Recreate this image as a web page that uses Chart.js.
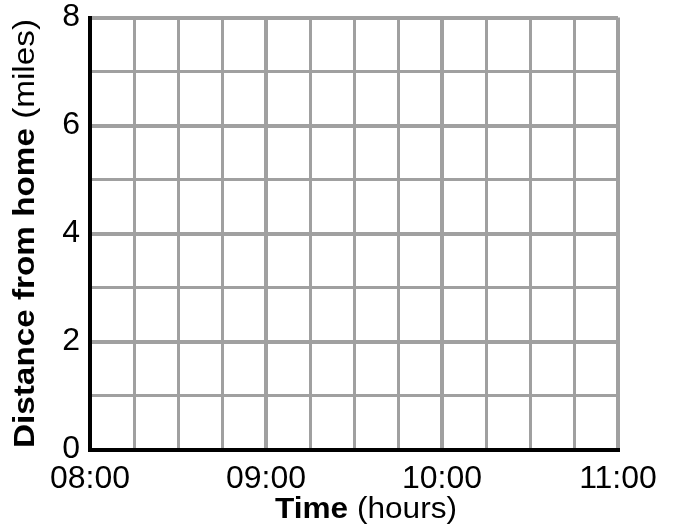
<!DOCTYPE html>
<html><head><meta charset="utf-8">
<script src="https://cdn.jsdelivr.net/npm/chart.js@4/dist/chart.umd.min.js"></script>
<style>html,body{margin:0;padding:0;background:#fff;overflow:hidden}</style>
</head><body>
<canvas id="c" width="676" height="526"></canvas>
<script>
// Data (reference is an empty grid: no plotted series)
const xMinutes = [0, 15, 30, 45, 60, 75, 90, 105, 120, 135, 150, 165, 180]; // minutes after 08:00
const xTickLabels = ['08:00', '', '', '', '09:00', '', '', '', '10:00', '', '', '', '11:00'];
const yTicks = [0, 1, 2, 3, 4, 5, 6, 7, 8];
const yTickLabels = ['0', '', '2', '', '4', '', '6', '', '8'];
const seriesPoints = [];
const xTitleBold = 'Time', xTitleRest = ' (hours)';
const yTitleBold = 'Distance from home', yTitleRest = ' (miles)';

const FAM = '"Liberation Sans", Arial, Helvetica, sans-serif';
const GRID = '#a0a0a0';

function drawTitle(ctx, bold, rest, size, cx, baseY, targetW, angle) {
  ctx.font = 'bold ' + size + 'px ' + FAM;
  const wb = ctx.measureText(bold).width;
  ctx.font = size + 'px ' + FAM;
  const wr = ctx.measureText(rest).width;
  const w = wb + wr;
  const sx = targetW / w;
  ctx.save();
  ctx.translate(cx, baseY);
  ctx.rotate(angle);
  ctx.scale(sx, 1);
  ctx.textAlign = 'left';
  ctx.textBaseline = 'alphabetic';
  ctx.fillStyle = '#000';
  ctx.font = 'bold ' + size + 'px ' + FAM;
  ctx.fillText(bold, -w / 2, 0);
  ctx.font = size + 'px ' + FAM;
  ctx.fillText(rest, -w / 2 + wb, 0);
  ctx.restore();
}

const titlePlugin = {
  id: 'mixedTitles',
  afterDraw(chart) {
    const ctx = chart.ctx;
    const a = chart.chartArea;
    drawTitle(ctx, xTitleBold, xTitleRest, 30, (a.left + a.right) / 2 + 12, 518, 182, 0);
    drawTitle(ctx, yTitleBold, yTitleRest, 30, 34, 233.5, 429, -Math.PI / 2);
  }
};

new Chart(document.getElementById('c'), {
  type: 'scatter',
  data: { datasets: [{ data: seriesPoints, showLine: false }] },
  plugins: [titlePlugin],
  options: {
    responsive: false,
    devicePixelRatio: 1,
    animation: false,
    layout: { padding: { top: 17.5, right: 58, left: 0, bottom: 0 } },
    plugins: { legend: { display: false }, tooltip: { enabled: false }, title: { display: false } },
    scales: {
      x: {
        type: 'linear', min: xMinutes[0], max: xMinutes[xMinutes.length - 1],
        afterBuildTicks: s => { s.ticks = xMinutes.map(v => ({ value: v })); },
        afterFit: s => { s.height = 76.5; },
        ticks: {
          autoSkip: false, maxRotation: 0, minRotation: 0, padding: 14, color: '#000',
          font: { family: FAM, size: 32, lineHeight: 1 },
          callback: (v, i) => xTickLabels[i]
        },
        grid: {
          drawTicks: false,
          color: c => (c.tick && c.tick.value === xMinutes[0]) ? '#000' : GRID,
          lineWidth: c => (c.tick && c.tick.value % 60 === 0) ? 4 : 3
        },
        border: { display: true, color: '#000', width: 4 },
        title: { display: false }
      },
      y: {
        type: 'linear', min: yTicks[0], max: yTicks[yTicks.length - 1],
        afterBuildTicks: s => { s.ticks = yTicks.map(v => ({ value: v })); },
        afterFit: s => { s.width = 90; },
        ticks: {
          autoSkip: false, padding: 10, color: '#000',
          font: { family: FAM, size: 32, lineHeight: 0.15 },
          callback: (v, i) => yTickLabels[i]
        },
        grid: {
          drawTicks: false,
          color: c => (c.tick && c.tick.value === yTicks[0]) ? '#000' : GRID,
          lineWidth: c => (c.tick && c.tick.value % 2 === 0) ? 4 : 3
        },
        border: { display: true, color: '#000', width: 4 },
        title: { display: false }
      }
    }
  }
});
</script>
</body></html>
